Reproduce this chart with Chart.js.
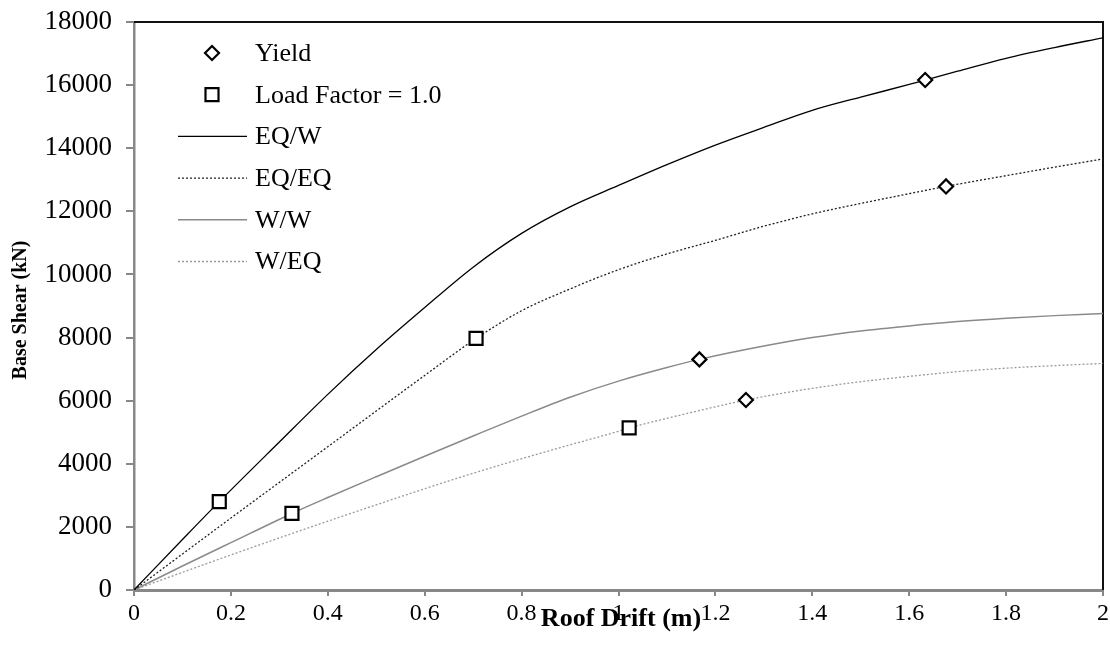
<!DOCTYPE html>
<html>
<head>
<meta charset="utf-8">
<title>Roof Drift vs Base Shear</title>
<script src="https://cdn.jsdelivr.net/npm/chart.js@4.4.1/dist/chart.umd.min.js"></script>
<style>
  html, body { margin: 0; padding: 0; background: #fff; }
  #wrap { width: 1110px; height: 648px; position: relative; }
  canvas { display: block; }
</style>
</head>
<body>
<div id="wrap"><canvas id="pushover"></canvas></div>
<script>
// ---- pushover curves: roof drift (m) vs base shear (kN) ----
const eqwDrift = [0, 0.1, 0.176, 0.3, 0.4, 0.5, 0.6, 0.7, 0.8, 0.9, 1.0, 1.1, 1.2, 1.3, 1.4, 1.5, 1.6, 1.633, 1.7, 1.8, 1.9, 2.0];
const eqwShear = [0, 1600, 2800, 4690, 6200, 7620, 8950, 10230, 11300, 12140, 12820, 13480, 14100, 14660, 15200, 15620, 16020, 16160, 16440, 16850, 17190, 17500];

const eqeqDrift = [0, 0.2, 0.4, 0.6, 0.706, 0.8, 0.9, 1.0, 1.1, 1.2, 1.3, 1.4, 1.5, 1.6, 1.676, 1.8, 1.9, 2.0];
const eqeqShear = [0, 2280, 4540, 6800, 7972, 8850, 9540, 10150, 10650, 11080, 11530, 11920, 12250, 12560, 12790, 13130, 13400, 13660];

const wwDrift = [0, 0.1, 0.2, 0.326, 0.4, 0.5, 0.6, 0.7, 0.8, 0.9, 1.0, 1.1, 1.167, 1.3, 1.4, 1.5, 1.6, 1.7, 1.8, 1.9, 2.0];
const wwShear = [0, 760, 1500, 2426, 2930, 3590, 4240, 4880, 5510, 6110, 6620, 7050, 7308, 7730, 8000, 8210, 8370, 8505, 8610, 8695, 8760];

const weqDrift = [0, 0.1, 0.2, 0.3, 0.4, 0.5, 0.6, 0.7, 0.8, 0.9, 1.0, 1.022, 1.1, 1.2, 1.263, 1.3, 1.4, 1.5, 1.6, 1.7, 1.8, 1.9, 2.0];
const weqShear = [0, 560, 1110, 1650, 2180, 2700, 3210, 3700, 4160, 4600, 5030, 5135, 5440, 5805, 6020, 6130, 6390, 6600, 6770, 6920, 7030, 7110, 7180];

// marker points (EQ/W, EQ/EQ, W/W, W/EQ)
const yieldDrift = [1.633, 1.676, 1.167, 1.263];
const yieldShear = [16160, 12790, 7308, 6020];
const lf1Drift = [0.176, 0.706, 0.326, 1.022];
const lf1Shear = [2800, 7972, 2426, 5135];

const xTickLabels = ['0', '0.2', '0.4', '0.6', '0.8', '1', '1.2', '1.4', '1.6', '1.8', '2'];
const yTickLabels = ['0', '2000', '4000', '6000', '8000', '10000', '12000', '14000', '16000', '18000'];

const FONT = "'Liberation Serif', 'Times New Roman', serif";

function pts(xs, ys) {
  return xs.map((x, i) => ({ x: x, y: ys[i] }));
}

const lineStyles = {
  'EQ/W':  { color: '#000000', width: 1.3, dash: [] },
  'EQ/EQ': { color: '#222222', width: 1.3, dash: [2, 2] },
  'W/W':   { color: '#8a8a8a', width: 1.5, dash: [] },
  'W/EQ':  { color: '#9a9a9a', width: 1.3, dash: [2, 2] }
};

function curve(label, xs, ys) {
  const s = lineStyles[label];
  return {
    type: 'line',
    label: label,
    data: pts(xs, ys),
    borderColor: s.color,
    borderWidth: s.width,
    borderDash: s.dash,
    pointRadius: 0,
    cubicInterpolationMode: 'monotone',
    fill: false
  };
}

const yieldMarker = { style: 'rectRot', radius: 7 };
const lf1Marker = { style: 'rect', radius: 9.2 };

function markers(label, xs, ys, m) {
  return {
    type: 'scatter',
    label: label,
    data: pts(xs, ys),
    pointStyle: m.style,
    pointRadius: m.radius,
    pointHoverRadius: m.radius,
    pointBorderWidth: 2.2,
    pointBorderColor: '#000',
    pointBackgroundColor: '#fff',
    showLine: false
  };
}

// legend drawn inside the plot, top-left
const legendPlugin = {
  id: 'innerLegend',
  afterDraw(chart) {
    const ctx = chart.ctx;
    const left = chart.chartArea.left;
    const rows = [
      { text: 'Yield', marker: yieldMarker },
      { text: 'Load Factor = 1.0', marker: lf1Marker },
      { text: 'EQ/W', line: 'EQ/W' },
      { text: 'EQ/EQ', line: 'EQ/EQ' },
      { text: 'W/W', line: 'W/W' },
      { text: 'W/EQ', line: 'W/EQ' }
    ];
    ctx.save();
    ctx.font = '26px ' + FONT;
    ctx.textBaseline = 'middle';
    rows.forEach((r, i) => {
      const y = 53 + i * 41.7;
      if (r.marker) {
        ctx.strokeStyle = '#000';
        ctx.fillStyle = '#fff';
        ctx.lineWidth = 2.2;
        Chart.helpers.drawPoint(ctx, { pointStyle: r.marker.style, radius: r.marker.radius, borderWidth: 2.2, rotation: 0 }, left + 78, y);
      } else {
        const s = lineStyles[r.line];
        ctx.beginPath();
        ctx.strokeStyle = s.color;
        ctx.lineWidth = s.width;
        ctx.setLineDash(s.dash);
        ctx.moveTo(left + 44, y);
        ctx.lineTo(left + 113, y);
        ctx.stroke();
        ctx.setLineDash([]);
      }
      ctx.fillStyle = '#000';
      ctx.fillText(r.text, left + 121, y + 1);
    });
    ctx.restore();
  }
};

// dark top/right frame plus the two axis titles
const framePlugin = {
  id: 'frame',
  beforeDatasetsDraw(chart) {
    const a = chart.chartArea;
    const ctx = chart.ctx;
    ctx.save();
    ctx.strokeStyle = '#111';
    ctx.lineWidth = 2;
    ctx.beginPath();
    ctx.moveTo(a.left, a.top);
    ctx.lineTo(a.right, a.top);
    ctx.lineTo(a.right, a.bottom);
    ctx.stroke();
    ctx.restore();
  },
  afterDraw(chart) {
    const ctx = chart.ctx;
    ctx.save();
    ctx.fillStyle = '#000';
    ctx.textAlign = 'center';
    ctx.textBaseline = 'middle';
    ctx.font = 'bold 26px ' + FONT;
    ctx.fillText('Roof Drift (m)', 621, 619);
    ctx.translate(21, 310);
    ctx.rotate(-Math.PI / 2);
    ctx.font = 'bold 20px ' + FONT;
    ctx.fillText('Base Shear (kN)', 0, 0);
    ctx.restore();
  }
};

new Chart(document.getElementById('pushover'), {
  data: {
    datasets: [
      markers('Yield', yieldDrift, yieldShear, yieldMarker),
      markers('Load Factor = 1.0', lf1Drift, lf1Shear, lf1Marker),
      curve('EQ/W', eqwDrift, eqwShear),
      curve('EQ/EQ', eqeqDrift, eqeqShear),
      curve('W/W', wwDrift, wwShear),
      curve('W/EQ', weqDrift, weqShear)
    ]
  },
  options: {
    responsive: true,
    maintainAspectRatio: false,
    animation: false,
    layout: { autoPadding: false, padding: { left: 0, right: 7, top: 22, bottom: 0 } },
    plugins: {
      legend: { display: false },
      tooltip: { enabled: false }
    },
    scales: {
      x: {
        type: 'linear',
        min: 0,
        max: 2,
        ticks: {
          stepSize: 0.2,
          color: '#000',
          padding: 3,
          maxRotation: 0,
          font: { family: FONT, size: 24 },
          callback: (v, i) => xTickLabels[i]
        },
        grid: { drawOnChartArea: false, tickLength: 6, color: '#888', lineWidth: 2 },
        border: { color: '#888', width: 3 },
        afterFit(scale) {
          scale.height = 58;
          scale.paddingLeft = 0;
          scale.paddingRight = 0;
        }
      },
      y: {
        type: 'linear',
        min: 0,
        max: 18000,
        ticks: {
          stepSize: 2000,
          color: '#000',
          padding: 14,
          font: { family: FONT, size: 27 },
          callback: (v, i) => yTickLabels[i]
        },
        grid: { drawOnChartArea: false, tickLength: 8, color: '#888', lineWidth: 2 },
        border: { color: '#888', width: 2.5 },
        afterFit(scale) {
          scale.width = 134;
          scale.paddingTop = 0;
          scale.paddingBottom = 0;
        }
      }
    }
  },
  plugins: [framePlugin, legendPlugin]
});
</script>
</body>
</html>
